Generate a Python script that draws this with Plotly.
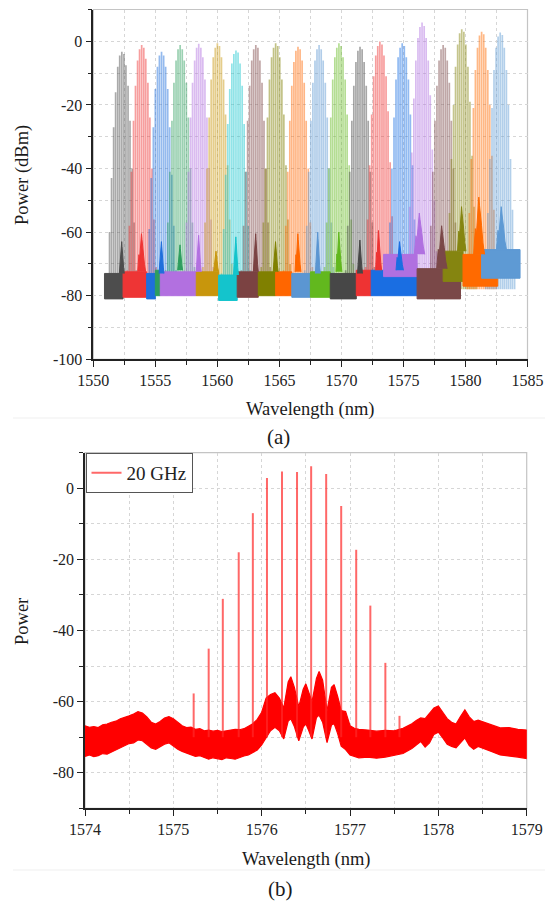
import plotly.graph_objects as go

W, H = 555, 903
FONT = "Liberation Serif"

# ---------------- Panel (a) data ----------------
COMB_CENTERS_A = [1552.3, 1553.9, 1555.5, 1557.0, 1558.5, 1560.0, 1561.5, 1563.1, 1564.7, 1566.5,
                  1568.2, 1569.8, 1571.5, 1573.1, 1574.9, 1576.5, 1578.2, 1579.7, 1581.3, 1582.8]
LINE_OFFSETS_A = [-1.16, -0.99, -0.83, -0.66, -0.50, -0.33, -0.17, 0.0,
                  0.17, 0.33, 0.50, 0.66, 0.83, 0.99, 1.16]
COMB_POWERS_A = [
    [-73, -60, -43, -27, -16, -8, -4.5, -3.3, -4, -7.5, -14, -25, -40, -57, -72],
    [-72, -58, -41, -25, -14, -6, -2.5, -1.2, -2, -5.5, -13, -24, -40, -56, -71],
    [-73, -59, -43, -27, -15, -8, -4.5, -3.3, -4.5, -8, -15, -27, -42, -58, -72],
    [-72, -57, -41, -25, -13, -6, -2.5, -1.2, -2.5, -6, -13, -24, -40, -57, -71],
    [-72, -57, -41, -24, -13, -6, -2, -0.8, -2, -5, -12, -24, -40, -56, -71],
    [-71, -57, -40, -24, -12, -5, -2, -0.6, -1.5, -5, -12, -23, -39, -56, -70],
    [-73, -59, -42, -26, -15, -7, -4, -2.9, -3.5, -7, -14, -26, -41, -58, -72],
    [-72, -58, -41, -25, -14, -6, -2.5, -1.2, -2, -6, -13, -25, -40, -57, -71],
    [-71, -57, -40, -24, -12, -5, -2, -0.6, -1.5, -5, -12, -23, -39, -56, -70],
    [-72, -58, -41, -25, -14, -6.5, -3, -1.7, -2.5, -6, -13, -25, -40, -57, -71],
    [-72, -58, -41, -25, -13, -6, -2.5, -1.2, -2.5, -6, -13, -24, -40, -57, -71],
    [-71, -57, -40, -24, -12, -5, -2, -0.6, -1.5, -5, -12, -23, -39, -56, -70],
    [-72, -58, -41, -25, -14, -6.5, -3, -1.7, -2.5, -6.5, -14, -25, -41, -57, -71],
    [-71, -56, -39, -23, -11, -4.5, -1.5, -0.1, -1, -4.5, -11, -22, -38, -55, -70],
    [-71, -57, -40, -24, -12, -5, -2, -0.6, -1.5, -5, -12, -23, -39, -56, -70],
    [-68, -52, -35, -18, -6, 1, 4.5, 5.9, 4.8, 1, -6, -17, -34, -50, -66],
    [-72, -58, -41, -25, -14, -6, -2.5, -1.2, -2, -6, -13, -25, -40, -57, -71],
    [-69, -54, -37, -20, -8, -1, 2.5, 3.8, 3, -1, -8, -19, -36, -52, -67],
    [-69, -54, -37, -21, -9, -2, 1.8, 3.0, 2.2, -2, -9, -20, -36, -53, -68],
    [-69, -54, -37, -21, -9, -2, 1.5, 2.8, 2, -2, -9, -20, -37, -53, -68],
]
COMB_COLORS_A = ["#4d4d4d", "#ee3535", "#1f6fdc", "#2e9e5e", "#b270e0", "#c8960c", "#14c4cc",
                 "#7b4242", "#808000", "#ff6600", "#5b96d2", "#62b81e", "#474747", "#ee3333",
                 "#1a6ee2", "#b070e0", "#7a4848", "#858510", "#ff6a00", "#5e9ad4"]
LINE_BASE_A = -78

FLOOR_START_A = [1550.9, 1552.4, 1554.3, 1555.0, 1555.4, 1558.3, 1560.1, 1561.6, 1563.3, 1564.7,
                 1566.0, 1567.5, 1569.1, 1571.2, 1572.4, 1573.4, 1576.1, 1578.2, 1579.8, 1581.3]
FLOOR_END_A = [1552.4, 1554.3, 1555.0, 1555.4, 1558.3, 1560.1, 1561.6, 1563.3, 1564.7, 1566.0,
               1567.5, 1569.1, 1571.2, 1572.4, 1576.1, 1576.1, 1579.6, 1579.8, 1582.6, 1584.4]
FLOOR_LOW_A = [-81, -80.5, -81, -80, -80, -80, -81.5, -80.5, -80, -80,
               -80.5, -80.5, -81, -80, -80, -74, -81, -75.5, -77, -74.5]
FLOOR_HIGH_A = [-73, -72.5, -73, -72, -72.5, -72.5, -73.5, -72.5, -72.5, -72.5,
                -73, -72.5, -73, -72, -72, -67, -71.5, -66, -67, -65.5]

PEDESTAL_CENTER_A = [1552.3, 1553.9, 1555.5, 1557.0, 1558.5, 1559.9, 1561.5, 1563.1, 1564.7, 1566.5,
                     1568.1, 1569.8, 1571.5, 1573.0, 1574.7, 1576.3, 1578.1, 1579.7, 1581.1, 1582.9]
PEDESTAL_TOP_A = [-63, -60.5, -63, -64, -61, -66, -61.5, -60.5, -63, -60.5,
                  -60, -60, -62.5, -59.5, -63, -54, -58, -52, -49, -52]
PEDESTAL_HALFWIDTH_A = [0.2, 0.32, 0.2, 0.2, 0.2, 0.2, 0.2, 0.2, 0.2, 0.24,
                        0.2, 0.24, 0.2, 0.24, 0.3, 0.42, 0.42, 0.34, 0.44, 0.4]

X_TICKS_A = [1550, 1555, 1560, 1565, 1570, 1575, 1580, 1585]
X_TICK_LABELS_A = ["1550", "1555", "1560", "1565", "1570", "1575", "1580", "1585"]
Y_TICKS_A = [0, -20, -40, -60, -80, -100]
Y_TICK_LABELS_A = ["0", "-20", "-40", "-60", "-80", "-100"]

# ---------------- Panel (b) data ----------------
LINES_B_WL = [1575.23, 1575.40, 1575.56, 1575.74, 1575.90, 1576.06, 1576.23, 1576.40,
              1576.56, 1576.73, 1576.90, 1577.07, 1577.23, 1577.40, 1577.56]
LINES_B_POWER = [-57.7, -45.1, -31.1, -18.0, -7.0, 2.9, 4.7, 4.6,
                 6.2, 4.0, -5.0, -17.3, -33.0, -49.1, -64.0]
LINE_BASE_B = -70

FLOOR_B_WL = [1574.00, 1574.05, 1574.10, 1574.15, 1574.20, 1574.25, 1574.30, 1574.35, 1574.40, 1574.45,
              1574.50, 1574.55, 1574.60, 1574.65, 1574.70, 1574.75, 1574.80, 1574.85, 1574.90, 1574.95,
              1575.00, 1575.05, 1575.10, 1575.15, 1575.20, 1575.25, 1575.30, 1575.35, 1575.40, 1575.45,
              1575.50, 1575.55, 1575.60, 1575.65, 1575.70, 1575.75, 1575.80, 1575.85, 1575.90, 1575.95,
              1576.00, 1576.05, 1576.10, 1576.15, 1576.20, 1576.25, 1576.30, 1576.33, 1576.37, 1576.42,
              1576.47, 1576.50, 1576.53, 1576.57, 1576.62, 1576.65, 1576.69, 1576.74, 1576.79, 1576.82,
              1576.86, 1576.90, 1576.95, 1577.00, 1577.05, 1577.10, 1577.20, 1577.30, 1577.40, 1577.50,
              1577.60, 1577.70, 1577.75, 1577.80, 1577.85, 1577.90, 1577.95, 1578.00, 1578.05, 1578.10,
              1578.15, 1578.20, 1578.25, 1578.30, 1578.35, 1578.40, 1578.45, 1578.50, 1578.60, 1578.70,
              1578.80, 1578.90, 1579.00]
FLOOR_B_HIGH = [-66.8, -67.2, -67.0, -67.3, -66.5, -66.3, -65.8, -65.5, -64.8, -64.5,
                -64.0, -63.5, -62.8, -63.2, -64.3, -65.8, -66.3, -65.6, -64.6, -64.2,
                -64.8, -65.8, -66.8, -67.3, -67.2, -67.8, -67.6, -68.2, -68.0, -68.3,
                -68.1, -68.4, -68.1, -68.0, -67.8, -67.9, -67.6, -67.0, -66.2, -65.0,
                -63.0, -59.0, -58.0, -57.5, -59.0, -61.8, -54.5, -53.0, -56.0, -61.5,
                -56.5, -55.0, -57.0, -60.0, -53.5, -51.5, -54.0, -62.5, -56.0, -55.2,
                -58.5, -62.5, -62.8, -66.8, -67.5, -67.8, -68.0, -68.3, -68.1, -68.2,
                -67.5, -66.2, -65.3, -64.6, -64.8, -63.2, -61.8, -61.2, -63.0, -64.8,
                -65.8, -66.3, -64.2, -62.3, -64.3, -65.6, -65.2, -65.6, -66.6, -67.4,
                -67.3, -67.8, -68.0]
FLOOR_B_LOW = [-75.4, -75.0, -75.5, -75.2, -74.6, -74.8, -74.0, -73.4, -73.0, -72.4,
               -71.8, -71.6, -70.8, -71.0, -72.0, -73.0, -73.4, -72.6, -72.0, -71.6,
               -72.4, -73.4, -74.0, -74.6, -75.0, -75.4, -75.2, -75.8, -76.2, -75.8,
               -76.0, -76.3, -75.8, -76.0, -76.2, -75.7, -75.3, -75.0, -74.2, -73.6,
               -72.2, -70.2, -68.2, -67.2, -68.2, -70.5, -65.5, -64.8, -67.0, -71.0,
               -67.2, -66.2, -68.0, -70.5, -64.5, -63.8, -65.8, -71.5, -66.6, -66.2,
               -69.0, -72.5, -73.5, -75.0, -75.5, -75.8, -75.6, -75.9, -75.6, -75.2,
               -74.6, -73.2, -72.2, -71.2, -72.8, -71.6, -69.2, -68.6, -70.2, -72.0,
               -72.6, -73.0, -71.6, -70.2, -72.4, -73.4, -72.6, -73.0, -74.0, -75.0,
               -75.4, -75.6, -76.0]

X_TICKS_B = [1574, 1575, 1576, 1577, 1578, 1579]
X_TICK_LABELS_B = ["1574", "1575", "1576", "1577", "1578", "1579"]
Y_TICKS_B = [0, -20, -40, -60, -80]
Y_TICK_LABELS_B = ["0", "-20", "-40", "-60", "-80"]


def px_x(p):
    return p / W


def px_y(p):
    return 1 - p / H


def rgba(hexcol, a):
    h = hexcol.lstrip("#")
    return "rgba(%d,%d,%d,%g)" % (int(h[0:2], 16), int(h[2:4], 16), int(h[4:6], 16), a)


fig = go.Figure()

# ---- Panel (a): comb lines ----
for c, powers, col in zip(COMB_CENTERS_A, COMB_POWERS_A, COMB_COLORS_A):
    xs, ys = [], []
    for off, p in zip(LINE_OFFSETS_A, powers):
        xs += [c + off, c + off, None]
        ys += [LINE_BASE_A, p, None]
    fig.add_trace(go.Scatter(x=xs, y=ys, mode="lines", xaxis="x", yaxis="y",
                             line=dict(color=rgba(col, 0.48), width=1.7),
                             showlegend=False, hoverinfo="skip"))

# ---- Panel (a): noise floors ----
for x0, x1, lo, hi, col in zip(FLOOR_START_A, FLOOR_END_A, FLOOR_LOW_A, FLOOR_HIGH_A, COMB_COLORS_A):
    fig.add_trace(go.Scatter(x=[x0, x0, x1, x1, x0], y=[lo, hi, hi, lo, lo], mode="lines",
                             fill="toself", fillcolor=col, line=dict(color=col, width=1),
                             xaxis="x", yaxis="y", showlegend=False, hoverinfo="skip"))

# ---- Panel (a): pedestals (noisy mounds rising from the floor) ----
for bc, bt, bw, hi, col in zip(PEDESTAL_CENTER_A, PEDESTAL_TOP_A, PEDESTAL_HALFWIDTH_A,
                               FLOOR_HIGH_A, COMB_COLORS_A):
    d = bt - hi
    px = [bc - bw, bc - 0.7 * bw, bc - 0.5 * bw, bc - 0.25 * bw, bc - 0.05 * bw,
          bc + 0.08 * bw, bc + 0.25 * bw, bc + 0.45 * bw, bc + 0.7 * bw, bc + bw]
    py = [hi, hi + 0.45 * d, hi + 0.35 * d, hi + 0.8 * d, bt,
          hi + 0.85 * d, hi + 0.6 * d, hi + 0.5 * d, hi + 0.2 * d, hi]
    fig.add_trace(go.Scatter(x=px, y=py, mode="lines",
                             fill="toself", fillcolor=col, line=dict(color=col, width=1),
                             xaxis="x", yaxis="y", showlegend=False, hoverinfo="skip"))

# ---- Panel (b) ----
fig.add_trace(go.Scatter(x=FLOOR_B_WL + FLOOR_B_WL[::-1], y=FLOOR_B_HIGH + FLOOR_B_LOW[::-1],
                         mode="lines", fill="toself", fillcolor="#ff0000",
                         line=dict(color="#ff0000", width=1.2),
                         xaxis="x2", yaxis="y2", showlegend=False, hoverinfo="skip"))
xs, ys = [], []
for wl, p in zip(LINES_B_WL, LINES_B_POWER):
    xs += [wl, wl, None]
    ys += [LINE_BASE_B, p, None]
fig.add_trace(go.Scatter(x=xs, y=ys, mode="lines", name="20 GHz",
                         line=dict(color="rgba(255,40,40,0.7)", width=2),
                         xaxis="x2", yaxis="y2", showlegend=True, hoverinfo="skip"))

grid_col = "#d6d6d6"
tickfont = dict(family=FONT, size=16, color="#222222")
common = dict(showline=True, linecolor="#222222", linewidth=1.5, ticks="outside",
              ticklen=6, tickwidth=1.2, tickcolor="#222222", showgrid=True,
              gridcolor=grid_col, griddash="3px,3px", gridwidth=1, zeroline=False,
              tickfont=tickfont, automargin=False)

fig.update_layout(
    width=W, height=H, autosize=False,
    margin=dict(l=0, r=0, t=0, b=0, pad=0, autoexpand=False),
    paper_bgcolor="white", plot_bgcolor="white",
    font=dict(family=FONT, color="#222222"),
    xaxis=dict(domain=[px_x(93.3), px_x(527.5)], anchor="y", range=[1550, 1585],
               tickvals=X_TICKS_A, ticktext=X_TICK_LABELS_A,
               minor=dict(dtick=2.5, tick0=1550, ticklen=4, tickcolor="#222222", ticks="outside",
                          showgrid=True, gridcolor=grid_col, griddash="3px,3px"),
               **common),
    yaxis=dict(domain=[px_y(359.3), px_y(9.5)], anchor="x", range=[-100, 10],
               tickvals=Y_TICKS_A, ticktext=Y_TICK_LABELS_A,
               minor=dict(dtick=10, tick0=0, ticklen=4, tickcolor="#222222", ticks="outside",
                          showgrid=True, gridcolor=grid_col, griddash="3px,3px"),
               **common),
    xaxis2=dict(domain=[px_x(85), px_x(526.7)], anchor="y2", range=[1574, 1579],
                tickvals=X_TICKS_B, ticktext=X_TICK_LABELS_B,
                minor=dict(dtick=0.5, tick0=1574, ticklen=4, tickcolor="#222222", ticks="outside",
                           showgrid=True, gridcolor=grid_col, griddash="3px,3px"),
                **common),
    yaxis2=dict(domain=[px_y(808.3), px_y(452.7)], anchor="x2", range=[-90, 10],
                tickvals=Y_TICKS_B, ticktext=Y_TICK_LABELS_B,
                minor=dict(dtick=10, tick0=0, ticklen=4, tickcolor="#222222", ticks="outside",
                           showgrid=True, gridcolor=grid_col, griddash="3px,3px"),
                **common),
    legend=dict(x=px_x(85.5), y=px_y(453), xanchor="left", yanchor="top",
                bgcolor="white", bordercolor="#555555", borderwidth=1,
                font=dict(family=FONT, size=19, color="#222222"),
                itemwidth=30, tracegroupgap=0),
)

# grey frames (top/right)
for xr, yr in (("x domain", "y domain"), ("x2 domain", "y2 domain")):
    fig.add_shape(type="rect", xref=xr, yref=yr, x0=0, x1=1, y0=0, y1=1,
                  line=dict(color="#c4c4c4", width=1.2), layer="below")

# faint separators
for yy in (418, 870):
    fig.add_shape(type="line", xref="paper", yref="paper", x0=px_x(13), x1=px_x(545),
                  y0=px_y(yy), y1=px_y(yy), line=dict(color="#efefef", width=1))

ann = [
    dict(text="Wavelength (nm)", x=px_x(310), y=px_y(409), size=18.5, angle=0),
    dict(text="Power (dBm)", x=px_x(22), y=px_y(175), size=18.5, angle=-90),
    dict(text="(a)", x=px_x(278), y=px_y(437), size=21, angle=0),
    dict(text="Wavelength (nm)", x=px_x(306), y=px_y(859), size=18.5, angle=0),
    dict(text="Power", x=px_x(22), y=px_y(622), size=18.5, angle=-90),
    dict(text="(b)", x=px_x(280), y=px_y(889), size=21, angle=0),
]
for a in ann:
    fig.add_annotation(text=a["text"], x=a["x"], y=a["y"], xref="paper", yref="paper",
                       xanchor="center", yanchor="middle", showarrow=False,
                       textangle=a["angle"],
                       font=dict(family=FONT, size=a["size"], color="#1a1a1a"))

fig.write_html("out.html")
